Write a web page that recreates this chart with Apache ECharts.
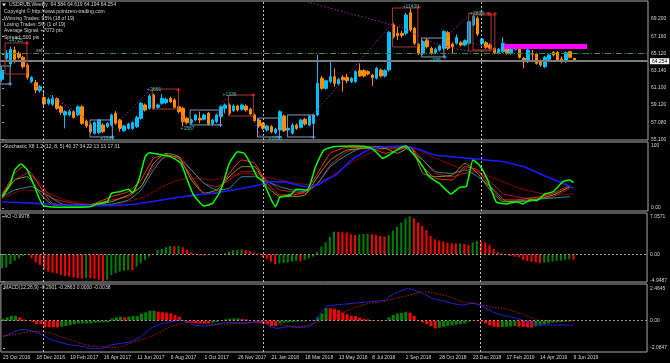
<!DOCTYPE html>
<html><head><meta charset="utf-8">
<script src="https://cdn.jsdelivr.net/npm/echarts@6/dist/echarts.min.js"></script>
<style>html,body{margin:0;padding:0;background:#000}#c{width:670px;height:363px}</style>
</head><body><div id="c"></div>
<script>
// ---------- DATA ----------
const dateLabels = ['23 Oct 2016','18 Dec 2016','19 Feb 2017','16 Apr 2017','11 Jun 2017','6 Aug 2017','1 Oct 2017','26 Nov 2017','21 Jan 2018','18 Mar 2018','13 May 2018','8 Jul 2018','2 Sep 2018','28 Oct 2018','23 Dec 2018','17 Feb 2019','14 Apr 2019','9 Jun 2019'];
const dateLabelBars = [0,8,16,24,32,40,48,56,64,72,80,88,96,104,112,120,128,136];
const priceTicks = [69.2,67.16,65.12,63.14,61.1,59.12,57.08,55.1];
const stochTicks = [100,0];
const aoTicks = [7.0571,0,-4.9487];
const macdTicks = [2.4645,0,-2.0847];
// weekly candles [open, close, low, high]
const candles = [
[62.13,63.03,61.86,63.61],[64.59,65.18,64.20,65.57],[63.93,65.65,63.61,65.96],[65.57,64.47,64.00,65.96],[65.18,64.71,64.50,65.40],
[64.71,63.61,63.40,64.90],[63.81,62.36,62.10,64.00],[61.86,62.36,61.70,62.50],[61.74,60.88,60.49,62.05],[60.80,61.27,60.55,61.46],
[59.98,59.24,58.92,60.80],[59.32,59.79,59.10,60.00],[59.20,59.86,59.00,60.29],[59.86,58.73,58.55,60.00],[58.92,58.26,58.00,59.10],
[57.95,58.34,56.38,58.50],[57.95,58.34,57.80,58.60],[58.34,57.67,57.50,58.50],[57.95,58.92,57.80,59.10],[58.92,56.97,56.80,59.10],
[57.24,56.66,56.45,57.40],[56.77,55.99,55.80,56.95],[55.80,57.05,55.65,57.20],[55.88,57.36,55.70,57.50],[56.77,55.99,55.80,57.00],
[56.58,56.97,56.40,57.10],[56.77,57.95,56.60,58.10],[58.14,56.97,56.80,58.40],[57.36,56.38,56.00,57.50],[56.11,56.66,55.95,56.80],
[56.38,56.89,56.20,57.05],[56.38,57.05,56.20,57.20],[56.58,57.67,56.40,57.85],[57.56,59.32,57.40,59.50],[59.12,58.53,58.35,59.30],
[58.73,60.18,58.55,60.40],[60.29,58.73,58.55,60.45],[58.85,59.12,58.70,59.30],[59.32,59.90,59.15,60.40],[59.40,59.79,59.20,60.00],
[59.90,59.51,59.35,60.10],[59.71,58.85,58.70,59.90],[58.92,58.34,58.15,59.05],[58.73,57.17,56.58,58.90],[57.56,57.05,56.85,57.70],
[57.05,57.36,56.85,57.50],[57.36,57.95,57.20,58.10],[57.56,57.36,56.97,58.34],[57.44,57.95,57.30,58.10],[58.14,56.89,56.70,58.30],
[56.89,57.36,56.70,57.50],[57.17,57.95,57.00,58.10],[57.75,58.92,57.60,59.10],[58.73,59.12,58.14,59.30],[59.12,58.14,57.95,59.30],
[58.45,59.00,58.30,59.20],[59.00,58.53,58.35,59.15],[58.61,59.12,58.45,59.30],[59.00,58.53,58.35,59.20],[58.61,58.06,57.90,58.80],
[57.95,57.28,57.10,58.10],[57.36,56.66,56.45,57.50],[56.97,56.38,56.20,57.10],[56.19,56.66,56.00,56.80],[56.58,55.99,55.80,56.75],
[55.88,56.27,55.70,56.45],[56.19,58.34,56.00,58.50],[57.83,56.11,55.95,58.00],[56.19,56.38,56.00,56.60],[55.80,56.77,55.65,57.00],
[56.77,56.38,56.20,56.95],[56.50,57.36,56.35,57.50],[57.44,56.89,56.70,57.60],[56.77,57.83,56.60,58.00],[56.97,57.95,56.80,58.10],
[57.95,61.66,57.80,64.98],[62.25,61.07,60.90,62.50],[61.07,61.97,60.90,62.10],[61.86,62.44,61.66,64.20],[62.44,61.66,61.27,63.42],
[61.58,62.13,61.40,62.30],[62.36,62.05,60.68,62.64],[62.36,61.97,61.66,62.75],[61.86,62.25,61.70,62.40],[61.86,63.03,61.70,63.20],
[63.15,62.52,62.44,64.00],[63.15,62.52,62.35,63.30],[63.03,62.75,62.60,63.20],[62.64,62.32,61.35,62.80],[62.25,63.42,62.10,63.60],
[63.22,62.52,62.35,63.40],[62.52,63.15,62.35,63.30],[63.22,67.64,63.05,67.80],[68.50,67.13,66.90,68.70],[67.52,67.25,66.74,68.30],
[67.52,67.29,67.00,67.80],[67.52,69.67,67.30,69.90],[69.95,67.91,67.70,70.45],[68.11,66.35,66.15,68.30],[66.23,65.18,64.98,66.40],
[65.18,66.55,65.00,66.70],[66.74,65.96,65.76,66.95],[65.76,65.18,65.00,65.95],[65.26,65.65,65.10,65.85],[65.57,66.04,65.40,66.20],
[65.76,67.72,65.60,67.90],[67.60,65.76,65.55,67.80],[66.27,65.96,65.18,66.45],[66.35,67.05,66.20,67.40],[66.43,66.15,66.00,66.60],
[66.15,66.66,66.00,66.80],[66.35,68.89,66.20,69.10],[68.50,69.48,68.30,69.70],[69.28,67.44,67.20,69.50],[66.35,66.86,66.15,67.00],
[66.43,65.88,65.70,66.60],[66.15,65.76,65.60,66.35],[65.76,65.26,65.10,65.90],[65.26,65.65,65.10,65.80],[65.37,66.35,65.20,67.05],
[66.08,65.18,65.00,66.25],[65.18,65.76,65.00,65.90],[65.65,65.96,65.50,66.10],[66.08,64.71,64.55,66.25],[64.59,64.20,63.42,64.75],
[64.20,65.57,64.05,65.75],[65.18,65.06,64.20,65.57],[65.10,64.00,63.85,65.25],[64.28,63.81,63.62,64.45],[63.61,64.71,63.45,64.85],
[64.47,64.98,64.30,65.15],[65.29,64.98,64.80,65.45],[65.29,64.40,64.25,65.45],[64.51,64.20,64.00,64.79],[64.20,65.26,64.05,65.40],
[65.37,64.71,64.55,65.50],[64.584,64.254,64.194,64.619]
];
const lastClose = 64.254;
const signalLevel = 65.18;
const yearSeparators = [9.7, 62.1, 113.8];
// trade boxes [startBar, endBar, topPrice, bottomPrice, kind(0=buy,1=sell)]
const tradeBoxes = [
[-0.5,1.9,63.69,61.58,0],[0.7,5.9,66.39,62.75,1],[20.9,26.2,57.36,55.37,0],[35.7,41.9,60.99,58.65,1],
[44.7,51.9,58.53,56.78,0],[53.8,59.7,60.29,57.83,1],[60.7,65.9,57.59,55.37,0],[67.8,74.0,57.95,55.37,0],
[92.8,98.8,70.49,65.92,1],[99.7,105.0,66.97,64.75,0],[110.9,116.2,69.90,65.45,1],[111.9,117.1,69.67,65.57,1]
];
// exit crosses [bar, price, kind]
const tradeExits = [
[1.9,61.58,0],[5.9,66.39,1],[26.2,55.37,0],[41.9,60.88,1],[51.9,56.78,0],[59.7,60.29,1],
[65.9,55.37,0],[74.0,55.37,0],[99.0,70.6,1],[105.2,64.75,0],[115.7,69.79,1],[117.1,69.79,1]
];
const tradeLabelText = ['+4725','+2691','+1887','+1336','+11430','+985','+2836','+1849','+1825'];
const tradeLabelPos = [[1.6,66.62],[34.5,60.88],[42.4,56.30],[52.4,60.29],[95.2,70.67],[101.6,64.28],[111.2,69.79],[23.3,55.13],[63.3,55.13]];
const magentaZone = [[119.3,139.0,66.27,65.68]];
const zigzagSegments = [
[[6.5,61.8],[19.7,57.6],[22.5,55.4]],
[[26.2,56.42],[34.7,60.64]],
[[42.4,58.18],[44.0,56.54]],
[[51.4,58.77],[53.5,60.05]],
[[59.7,57.59],[61.4,55.37]],
[[73.8,57.95],[92.8,68.73]],
[[72.5,71.2],[95,68.2],[103,66.3],[110.9,65.4]],
[[105.5,67.09],[110.9,69.67]],
[[111.9,66.39],[117.4,65.57]]
];
// stochastic lines [bar, value]
const stochGreen = [[0,18.3],[2,39.8],[3,61.3],[4.5,71.0],[6,61.3],[7.4,39.8],[9,12.9],[10,3.2],[15,1.1],[21,2.2],[22.5,6.5],[25,10.2],[26,23.7],[28,26.4],[30,30.1],[31,24.7],[32.5,45.2],[34,82.8],[35,89.2],[38,85.5],[40,82.8],[42.5,72.1],[44,45.2],[45.5,21.0],[48,3.2],[50,7.5],[52,29.0],[54,72.1],[56,90.9],[57.5,88.2],[59,72.1],[60.6,50.5],[62,42.5],[63.8,15.6],[65,2.2],[66,17.2],[68.5,21.0],[70,30.1],[72.5,29.0],[74.5,66.7],[76.5,93.6],[79,99.0],[84,100],[87.2,97.9],[88.8,90.9],[90.4,80.1],[92,85.5],[94.4,96.2],[96,100],[97.6,88.2],[100,66.7],[101.5,50.5],[103.9,39.8],[106.7,22.6],[108.7,33.3],[110.3,34.4],[111.9,77.4],[113.4,69.4],[115.4,45.2],[117.4,10.2],[119.8,6.5],[122.2,10.2],[123.8,6.5],[125.4,12.9],[127,11.8],[129,22.6],[131,26.4],[133.3,42.5],[134.9,45.2],[135.8,40.9]];
const stochBlue = [[0,10.2],[8,7.5],[16,3.8],[24,3.8],[32,6.5],[38,12.9],[44,19.4],[50,23.7],[56,30.1],[61,37.1],[64,42.5],[68,40.9],[72,34.4],[75,37.1],[77,45.2],[79.3,53.3],[83,77.4],[87,93.6],[91,98.9],[96,100],[99,94.6],[103,85.5],[111,80.1],[119,74.7],[124,66.7],[128.5,53.2],[133.3,39.8],[135.8,31.7]];
const stochTeal = [[0,18.3],[3,29.0],[7,34.4],[10,23.7],[15,4.9],[25,4.9],[30,12.9],[33,29.0],[36,61.3],[39,85.5],[42,80.1],[45,61.3],[48,39.8],[51,29.0],[54,31.7],[57,50.5],[60,50.5],[63,42.5],[66,34.4],[69,29.0],[72,26.4],[75,39.8],[78,66.7],[80,77.4],[85,96.2],[90,98.9],[95,98.9],[100,77.4],[103,58.6],[107,55.9],[110,61.3],[113,50.5],[117,29.0],[120,10.2],[125,12.9],[130,15.6],[135,18.3]];
const stochOlive = [[0,15.6],[3,45.2],[6,50.5],[9,23.7],[12,4.9],[20,3.2],[26,10.2],[30,21.0],[33,34.4],[36,72.1],[39,88.2],[42,82.8],[45,45.2],[48,23.7],[51,29.0],[54,50.5],[57,66.7],[60,66.7],[63,34.4],[66,18.3],[69,18.3],[72,21.0],[75,50.5],[78,77.4],[82,93.6],[88,96.2],[91,96.2],[94,88.2],[97,98.9],[100,55.9],[103,50.5],[107,53.2],[110,72.1],[113,55.9],[116,29.0],[119,10.2],[122,10.2],[125,10.2],[128,15.6],[131,21.0],[135,34.4]];
const stochRed = [[0,21.0],[3,55.9],[5,66.7],[7,55.9],[9,34.4],[12,7.5],[20,3.2],[26,18.3],[30,26.4],[33,45.2],[36,80.1],[39,85.5],[42,80.1],[45,50.5],[48,23.7],[51,23.7],[54,55.9],[57,77.4],[60,72.1],[63,39.8],[66,21.0],[69,21.0],[72,26.4],[75,55.9],[78,88.2],[82,97.9],[88,96.2],[91,88.2],[94,93.6],[97,98.9],[100,66.7],[103,47.9],[107,45.2],[110,66.7],[113,61.3],[116,34.4],[119,12.9],[122,12.9],[125,15.6],[128,18.3],[131,23.7],[135,37.1]];
const stochRed2 = [[0,23.7],[3,45.2],[6,55.9],[9,39.8],[12,15.6],[20,4.9],[26,12.9],[30,18.3],[33,34.4],[36,66.7],[39,82.8],[42,82.8],[45,61.3],[48,39.8],[51,34.4],[54,45.2],[57,58.6],[60,58.6],[63,45.2],[66,29.0],[69,26.4],[72,23.7],[75,39.8],[78,69.4],[82,90.9],[88,98.9],[93,96.2],[97,97.9],[100,77.4],[103,55.9],[107,50.5],[110,55.9],[113,58.6],[116,42.5],[119,23.7],[122,18.3],[125,15.6],[128,15.6],[131,18.3],[135,31.7]];
const stochDarkRed = [[0,15.6],[5,29.0],[10,26.4],[15,12.9],[22,4.9],[28,7.5],[34,18.3],[38,34.4],[42,45.2],[46,47.9],[50,45.2],[54,50.5],[58,55.9],[62,50.5],[66,45.2],[70,39.8],[74,37.1],[78,50.5],[82,69.4],[88,90.9],[93,97.9],[98,96.2],[103,80.1],[108,66.7],[113,58.6],[118,45.2],[123,31.7],[128,23.7],[133,21.0],[135.8,23.7]];
// Awesome Oscillator, one value per bar
const aoValues = [-2.60,-2.42,-1.80,-1.18,-0.74,-0.31,-0.12,-0.74,-1.49,-1.98,
-2.79,-3.22,-3.41,-3.53,-3.84,-4.03,-4.15,-4.34,-4.46,-4.50,
-4.40,-4.46,-4.55,-4.70,-4.95,-4.70,-3.84,-3.53,-3.22,-3.04,
-2.91,-2.98,-2.29,-1.67,-1.05,-0.43,0.06,0.81,0.99,1.30,
1.55,1.50,1.58,1.30,0.81,0.37,0.12,-0.19,-0.25,-0.12,
-0.15,-0.06,0.06,0.19,0.50,0.81,0.85,0.93,0.81,0.50,
0.31,0.19,-0.56,-0.93,-1.36,-1.80,-1.70,-1.62,-1.49,-1.36,
-1.24,-1.30,-1.05,-0.74,-0.43,0.50,1.43,2.23,3.28,4.21,
4.15,4.10,4.03,3.72,3.59,3.72,3.78,3.80,3.72,3.59,
3.41,3.28,3.59,4.40,5.14,5.89,6.69,7.06,6.69,5.89,
5.27,4.52,3.41,2.79,2.54,2.35,2.17,2.04,2.00,2.04,
1.92,1.73,2.23,2.48,2.35,2.17,1.73,0.99,0.37,0.19,
-0.12,-0.31,-0.43,-0.56,-1.05,-1.24,-1.36,-1.49,-1.67,-1.55,
-1.49,-1.36,-1.24,-1.18,-1.05,-0.93,-1.00];
// MACD histogram per bar
const macdHist = [0.15,0.26,0.38,0.38,0.26,0.10,-0.02,-0.10,-0.26,-0.26,
-0.51,-0.51,-0.51,-0.51,-0.46,-0.41,-0.33,-0.28,-0.21,-0.21,
-0.21,-0.21,-0.15,-0.13,-0.13,-0.13,0.18,0.26,0.31,0.26,
0.31,0.36,0.36,0.56,0.64,0.77,0.77,0.69,0.64,0.62,
0.56,0.44,0.31,0.0,-0.15,-0.15,-0.21,-0.21,-0.21,-0.21,
-0.15,-0.08,0.0,0.10,0.15,0.18,0.18,0.13,0.10,0.0,
-0.08,-0.15,-0.26,-0.28,-0.41,-0.41,-0.21,-0.15,-0.13,-0.10,
-0.08,-0.05,-0.05,0.0,0.05,0.26,0.56,0.98,0.96,0.92,
0.82,0.62,0.49,0.38,0.36,0.23,0.13,0.10,0.05,0.0,
-0.05,-0.02,0.26,0.44,0.56,0.60,0.69,0.62,0.36,0.05,
-0.13,-0.26,-0.41,-0.59,-0.55,-0.46,-0.41,-0.36,-0.31,-0.26,
-0.21,-0.08,-0.02,-0.05,-0.08,-0.21,-0.36,-0.46,-0.51,-0.49,
-0.46,-0.44,-0.41,-0.46,-0.49,-0.51,-0.52,-0.44,-0.36,-0.28,
-0.21,-0.15,-0.13,-0.10,-0.08,-0.05,-0.02];
const macdMain = [[0,-1.23],[1.9,-0.97],[4.3,-0.67],[6.6,-0.77],[9,-1.03],[11.4,-1.44],[13.8,-1.69],[16.2,-1.87],[18.5,-1.95],[20.9,-2.13],[23.3,-2.13],[25.7,-1.87],[28.1,-1.74],[30.5,-1.62],[32.8,-1.23],[35.2,-0.59],[37.6,-0.26],[40,-0.08],[42.4,0.05],[44,-0.08],[45.5,-0.33],[47.9,-0.41],[50.3,-0.33],[52.7,-0.15],[55.1,-0.15],[57.4,-0.21],[59.8,-0.08],[62.2,-0.15],[63.8,-0.46],[65.4,-0.59],[67.8,-0.46],[70.9,-0.51],[73.3,-0.41],[74.9,0.18],[76.9,1.08],[79.3,1.21],[83.3,1.33],[87.2,1.46],[91.2,1.59],[92,1.85],[94.4,2.23],[96.4,2.46],[97.6,2.40],[100,2.10],[102.3,1.72],[104.7,1.54],[107.1,1.33],[109.5,1.21],[111.9,1.33],[114.2,1.13],[116.6,0.69],[119,0.44],[121.4,0.26],[123.8,0.05],[126.1,-0.26],[128.5,-0.33],[131.7,-0.33],[135.8,-0.36]];
const macdSignal = [[0,-1.18],[1.9,-1.10],[4.3,-0.97],[6.6,-0.85],[9,-0.85],[11.4,-0.97],[13.8,-1.23],[16.2,-1.49],[18.5,-1.74],[20.9,-1.95],[23.3,-2.00],[25.7,-2.05],[28.1,-2.00],[30.5,-1.74],[32.8,-1.49],[35.2,-1.23],[37.6,-0.85],[40,-0.46],[42.4,-0.21],[44.7,-0.08],[47.1,-0.21],[49.5,-0.26],[51.9,-0.28],[55.1,-0.21],[57.4,-0.15],[62.2,-0.15],[64.6,-0.21],[67,-0.33],[69.3,-0.46],[71.7,-0.41],[74.1,-0.21],[76.5,0.05],[78.9,0.31],[83.3,0.95],[87.2,1.33],[90.4,1.46],[93.6,1.72],[96.8,1.97],[100,2.23],[103.1,2.10],[106.3,1.85],[109.5,1.46],[112.6,1.33],[115.8,1.08],[119,0.95],[122.2,0.69],[125.3,0.31],[127.7,0.05],[130.1,0.0],[135.8,-0.02]];

// ---------- CHART ----------
const FONT = '"Liberation Sans", Arial, sans-serif';
const TXT = '#d4d4d4';
const GREEN = '#008000', RED = '#ff0000';
function risingColors(vals){
  const out=[]; let c=GREEN;
  vals.forEach((v,i)=>{ if(i>0){ if(v>vals[i-1]) c=GREEN; else if(v<vals[i-1]) c=RED; } out.push(c); });
  return out;
}
const aoColors = risingColors(aoValues);
const macdColors = risingColors(macdHist);
const X = {min:-0.5, max:153.5};
const gridBox = {left:0, right:22, show:true, borderColor:'#a9a9a9', borderWidth:1};
const grids = [
  Object.assign({top:1, height:139}, gridBox),
  Object.assign({top:142, height:69}, gridBox),
  Object.assign({top:213, height:69}, gridBox),
  Object.assign({top:284, height:68}, gridBox)
];
const xAxes = grids.map((g,k)=>({
  type:'value', gridIndex:k, min:X.min, max:X.max,
  axisLine:{show:false}, splitLine:{show:false}, axisTick:{show:false},
  axisLabel: k===3 ? {show:true, customValues:dateLabelBars, align:'left', margin:3, fontSize:5, fontFamily:FONT, color:TXT,
    formatter:(v)=>{const j=dateLabelBars.indexOf(Math.round(v)); return j>=0?dateLabels[j]:'';}} : {show:false}
}));
function yAx(k,min,max,ticks,fmt){
  return {type:'value', gridIndex:k, position:'right', min, max, scale:true,
    axisLine:{show:false}, splitLine:{show:false},
    axisTick:{show:true, customValues:ticks, length:2, lineStyle:{color:'#a9a9a9'}},
    axisLabel:{show:true, customValues:ticks, margin:3, fontSize:5, fontFamily:FONT, color:TXT, formatter:fmt}};
}
const yAxes = [
  yAx(0,55.015,71.31,priceTicks,v=>v.toFixed(3)),
  yAx(1,-4.84,106.45,stochTicks,v=>v===0?'0.00':String(Math.round(v))),
  yAx(2,-5.149,7.677,aoTicks,v=>v===0?'0.00':String(v)),
  yAx(3,-2.408,2.823,macdTicks,v=>v===0?'0.00':String(v))
];
const sepLines = yearSeparators.map(x=>({xAxis:x, lineStyle:{color:'#bdbdbd', type:[2,2], width:1}}));
function ml(extra){ return {silent:true, symbol:['none','none'], animation:false, label:{show:false}, data: extra.concat(sepLines)}; }

function stochLine(data,color,width,z){
  return {type:'line', xAxisIndex:1, yAxisIndex:1, data, showSymbol:false, smooth:0.15, clip:true, z,
    lineStyle:{color, width}, silent:true};
}

const series = [
  {type:'candlestick', xAxisIndex:0, yAxisIndex:0, barWidth:3, z:3,
    data: candles.map((c,i)=>[i,c[0],c[1],c[2],c[3]]),
    encode:{x:0, y:[1,2,3,4]},
    itemStyle:{color:'#00bfff', color0:'#ff8c00', borderColor:'#00bfff', borderColor0:'#ff8c00', borderWidth:1},
    markLine: ml([
      {yAxis:signalLevel, lineStyle:{color:'#2f8f2f', type:[6,2,1,2], width:1}},
      {yAxis:lastClose, lineStyle:{color:'#7d7d7d', type:'solid', width:2},
       label:{show:true, position:'end', distance:2, formatter:lastClose.toFixed(3), color:'#000', backgroundColor:'#ffffff', padding:[1,2,0,2], fontSize:5, fontFamily:FONT}}
    ])
  },
  {type:'custom', xAxisIndex:0, yAxisIndex:0, clip:true, z:4, data: magentaZone, silent:true,
    renderItem:(p,api)=>{const a=api.coord([api.value(0),api.value(2)]), b=api.coord([api.value(1),api.value(3)]);
      return {type:'rect', shape:{x:a[0],y:a[1],width:b[0]-a[0],height:b[1]-a[1]}, style:{fill:'#ff00ff'}};}},
  {type:'custom', xAxisIndex:0, yAxisIndex:0, clip:true, z:5, data: tradeBoxes, silent:true,
    renderItem:(p,api)=>{const a=api.coord([api.value(0),api.value(2)]), b=api.coord([api.value(1),api.value(3)]);
      const col = api.value(4)===1 ? '#a83a2c' : '#7c9dbf';
      return {type:'rect', shape:{x:a[0],y:a[1],width:b[0]-a[0],height:b[1]-a[1]}, style:{fill:'none', stroke:col, lineWidth:1}};}},
  {type:'custom', xAxisIndex:0, yAxisIndex:0, clip:true, z:6, data: tradeExits, silent:true,
    renderItem:(p,api)=>{const c=api.coord([api.value(0),api.value(1)]); const col = api.value(2)===1 ? '#ff2020' : '#5aa0ff';
      return {type:'group', children:[
        {type:'line', shape:{x1:c[0]-2,y1:c[1],x2:c[0]+2,y2:c[1]}, style:{stroke:col, lineWidth:1}},
        {type:'line', shape:{x1:c[0],y1:c[1]-2,x2:c[0],y2:c[1]+2}, style:{stroke:col, lineWidth:1}}]};}},
  {type:'custom', xAxisIndex:0, yAxisIndex:0, clip:true, z:6, data: tradeLabelPos, silent:true,
    renderItem:(p,api)=>{const c=api.coord([api.value(0),api.value(1)]);
      return {type:'text', x:c[0], y:c[1], style:{text:tradeLabelText[p.dataIndex], fill:'#3fbfbf', font:'5px '+FONT, verticalAlign:'middle', align:'left'}};}}
];
zigzagSegments.forEach(seg=>series.push({type:'line', xAxisIndex:0, yAxisIndex:0, data:seg, showSymbol:false, clip:true, z:4, silent:true,
  lineStyle:{color:'#a020a8', type:[1.5,2], width:1}}));
series.push(
  stochLine(stochDarkRed,'#8b0000',1,2),
  stochLine(stochRed2,'#c41414',1,2),
  stochLine(stochTeal,'#2b8fa6',1,2),
  stochLine(stochOlive,'#8f9d1c',1,2),
  stochLine(stochRed,'#ff2a2a',1,2),
  stochLine(stochBlue,'#1a1aff',1.6,3),
  Object.assign(stochLine(stochGreen,'#00ff00',1.5,4), {markLine: ml([])}),
  {type:'bar', xAxisIndex:2, yAxisIndex:2, barWidth:2, data: aoValues.map((v,i)=>[i,v]), silent:true,
    itemStyle:{color:(p)=>aoColors[p.dataIndex]},
    markLine: ml([{yAxis:0, lineStyle:{color:'#9a9a9a', type:[2,2], width:1}}])},
  {type:'bar', xAxisIndex:3, yAxisIndex:3, barWidth:3, data: macdHist.map((v,i)=>[i,v]), silent:true,
    itemStyle:{color:(p)=>macdColors[p.dataIndex]},
    markLine: ml([{yAxis:0, lineStyle:{color:'#9a9a9a', type:[2,2], width:1}}])},
  {type:'line', xAxisIndex:3, yAxisIndex:3, data: macdMain, showSymbol:false, smooth:0.2, silent:true, z:4,
    lineStyle:{color:'#2323d8', width:1}},
  {type:'line', xAxisIndex:3, yAxisIndex:3, data: macdSignal, showSymbol:false, smooth:0.2, silent:true, z:4,
    lineStyle:{color:'#b81c1c', width:1, type:[1.5,1.5]}}
);

function txt(x,y,t,col){ return {type:'text', x, y, silent:true, z:100, style:{text:t, fill:col||TXT, font:'5px '+FONT, verticalAlign:'middle'}}; }
const graphics = [
  {type:'polygon', silent:true, z:100, shape:{points:[[2,3.5],[6,3.5],[4,6.5]]}, style:{fill:'#e0e0e0'}},
  txt(9,5,'USDRUB,Weekly  64.584 64.619 64.194 64.254'),
  txt(4,12,'Copyright \u00a9 http://www.pointzero-trading.com'),
  txt(4,18.5,'Winning Trades: 95% (18 of 19)'),
  txt(4,25,'Losing Trades: 5% (1 of 19)'),
  txt(4,31,'Average Signal: +7073 pts'),
  txt(4,37.5,'Spread: 500 pts'),
  txt(36,51,'sell','#a8a8a8'),
  txt(4,147,'Stochastic X8 1.2 (12, 8, 5) 40 37 34 22 13 13 17 31'),
  txt(4,217,'AO -0.9978'),
  txt(4,287.5,'MACD(12,26,9) -0.2901 -0.2863 0.0000 -0.0038')
];

const chart = echarts.init(document.getElementById('c'));
chart.setOption({
  backgroundColor:'#000', animation:false,
  grid: grids, xAxis: xAxes, yAxis: yAxes, series, graphic: graphics
});
</script></body></html>
